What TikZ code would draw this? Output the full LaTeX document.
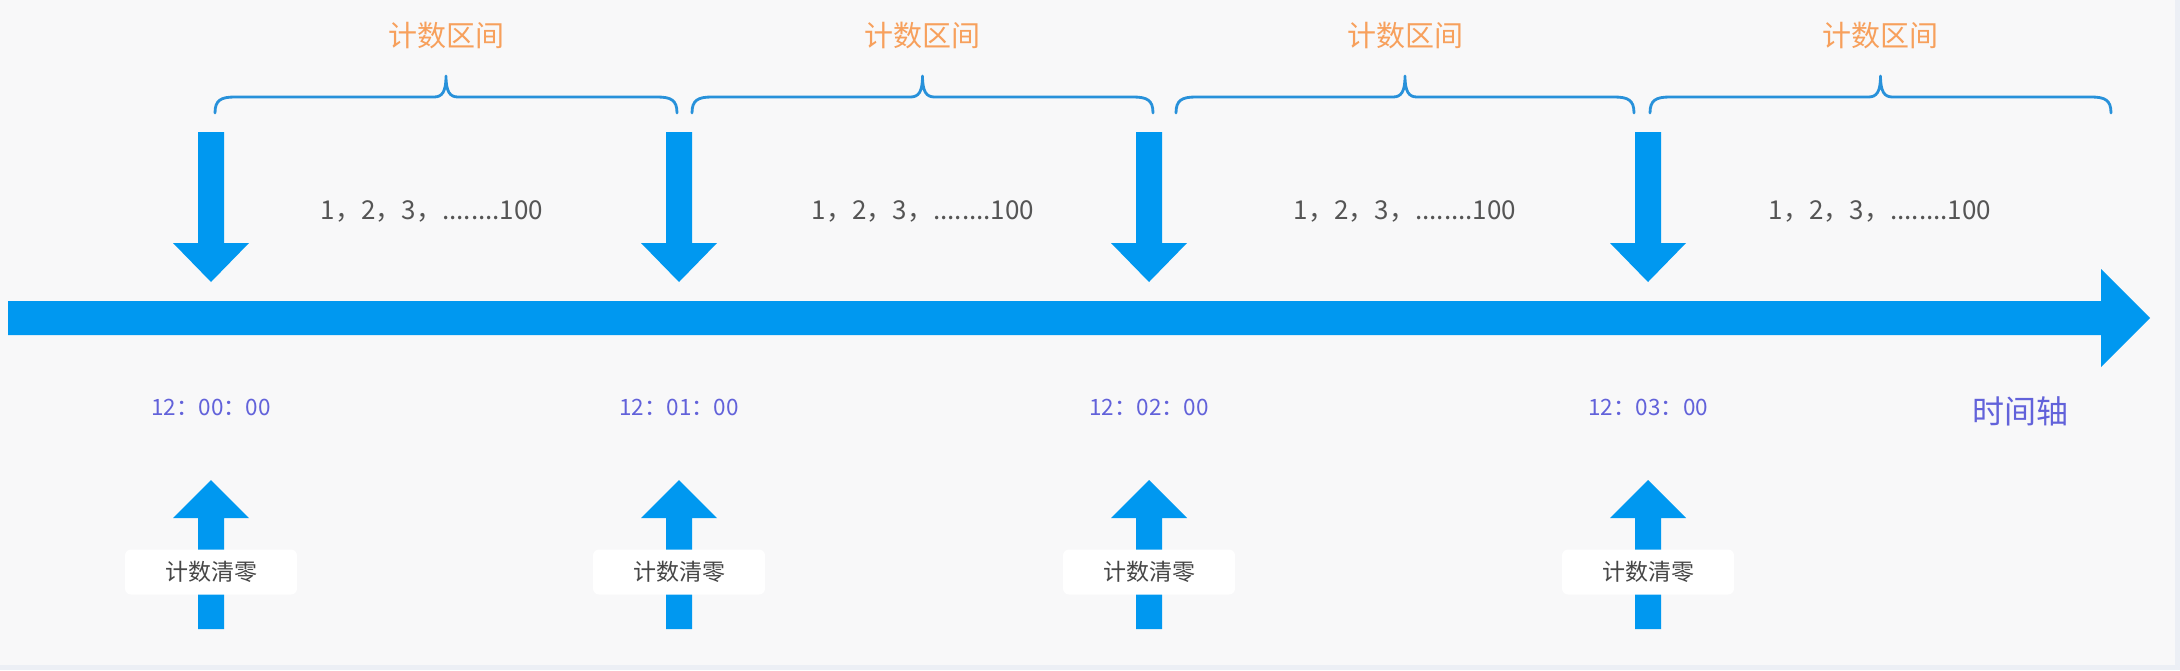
\documentclass[tikz,border=0pt]{standalone}
\usepackage{fontspec}
\setmainfont{Noto Sans CJK SC}
\newfontfamily\cjk{Noto Sans CJK SC}
\definecolor{bgcol}{RGB}{248,248,249}
\definecolor{edgecol}{RGB}{236,239,245}
\definecolor{arrowblue}{RGB}{0,152,240}
\definecolor{braceblue}{RGB}{40,145,218}
\definecolor{orangetxt}{RGB}{247,160,92}
\definecolor{greytxt}{RGB}{85,85,85}
\definecolor{timetxt}{RGB}{98,98,218}
\definecolor{labeltxt}{RGB}{70,70,70}
\tikzset{
  arrowshape/.style={fill=arrowblue, draw=none},
  bracestyle/.style={draw=braceblue, line width=1.4pt, line cap=round, line join=round},
  intervaltxt/.style={text=orangetxt, font=\cjk\fontsize{14.5}{16}\selectfont, inner sep=0pt},
  counttxt/.style={text=greytxt, font=\cjk\fontsize{13}{15}\selectfont, inner sep=0pt},
  timelabel/.style={text=timetxt, font=\cjk\fontsize{11.25}{13}\selectfont, inner sep=0pt},
  resetbox/.style={fill=white, draw=none, rounded corners=3pt, minimum width=86pt, minimum height=22.5pt, inner sep=0pt, text=labeltxt, font=\cjk\fontsize{11.5}{13}\selectfont},
  axislabel/.style={text=timetxt, font=\cjk\fontsize{16}{18}\selectfont, inner sep=0pt}
}
\begin{document}
\begin{tikzpicture}[x=0.5pt,y=-0.5pt]
  % background
  \fill[bgcol] (0,0) rectangle (2180,670);
  \fill[edgecol] (0,665) rectangle (2180,670);
  \fill[edgecol] (2175,0) rectangle (2180,670);
  \useasboundingbox (0,0) rectangle (2180,670);

  % time axis
  \coordinate (axisL) at (8,318);
  \coordinate (axisR) at (2150,318);
  \fill[arrowshape] (8,301) -- (2101,301) -- (2101,269) -- (axisR) -- (2101,367) -- (2101,335) -- (8,335) -- cycle;
  \node[axislabel] (axislbl) at (2020,411) {时间轴};

  % boundaries: down arrows, time labels, up arrows with reset labels
  \foreach \c/\t [count=\i] in {211/00, 679/01, 1149/02, 1648/03} {
    \fill[arrowshape] (\c-13,132) -- (\c+13,132) -- (\c+13,243) -- (\c+38,243)
      -- (\c,282) -- (\c-38,243) -- (\c-13,243) -- cycle;
    \node[timelabel] (time\i) at (\c,407) {12：\t：00};
    \fill[arrowshape] (\c,480) -- (\c+38,518) -- (\c+13,518) -- (\c+13,629)
      -- (\c-13,629) -- (\c-13,518) -- (\c-38,518) -- cycle;
    \node[resetbox] (reset\i) at (\c,572) {计数清零};
  }

  % braces with interval labels and counts
  \foreach \a/\b/\n [count=\i] in {215/677/432, 692/1153/923, 1176/1634/1405, 1650/2111/1880} {
    \pgfmathsetmacro{\m}{(\a+\b)/2}
    \draw[bracestyle] (\a,113) .. controls (\a,100) and (\a+6,97) .. (\a+20,97)
      -- (\m-12,97) .. controls (\m-4,97) and (\m,92) .. (\m,76)
      .. controls (\m,92) and (\m+4,97) .. (\m+12,97)
      -- (\b-20,97) .. controls (\b-6,97) and (\b,100) .. (\b,113);
    \node[intervaltxt] (interval\i) at (\m,36) {计数区间};
    \node[counttxt] (count\i) at (\n,211) {1，2，3，........100};
  }
\end{tikzpicture}
\end{document}
